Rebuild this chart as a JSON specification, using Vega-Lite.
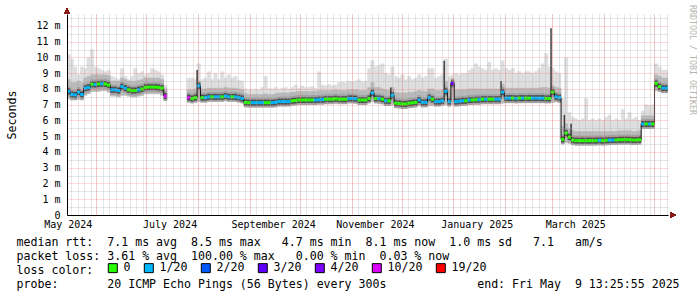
{
"$schema":"https://vega.github.io/schema/vega-lite/v6.json",
"width":601,"height":201,
"autosize":{"type":"none"},
"padding":{"left":67,"top":14,"right":29,"bottom":82},
"background":"#ffffff",
"config":{"view":{"stroke":null}},
"title":{"text":"RRDTOOL / TOBI OETIKER","orient":"right","anchor":"start","frame":"group","angle":90,"font":"DejaVu Sans Mono","fontSize":8.3,"fontWeight":"normal","color":"#b3b3b3","offset":10,"dx":-9},
"data":{"format":{"parse":{"t":"date"}},"values":[
{"t":"2024-05-14T12:00","m":7.85,"l":"1/20","lo":7.4,"mid":8.6,"hi":10.2},
{"t":"2024-05-16T12:00","m":7.65,"l":"1/20","lo":7.3,"mid":8.4,"hi":9.9},
{"t":"2024-05-18T12:00","m":7.62,"l":"1/20","lo":7.3,"mid":8.4,"hi":9.4},
{"t":"2024-05-20T12:00","m":7.8,"l":"1/20","lo":7.35,"mid":8.5,"hi":8.9},
{"t":"2024-05-22T12:00","m":7.65,"l":"1/20","lo":7.3,"mid":8.4,"hi":9.4},
{"t":"2024-05-24T12:00","m":8.05,"l":"1/20","lo":7.6,"mid":8.7,"hi":9.3},
{"t":"2024-05-26T12:00","m":8.1,"l":"1/20","lo":7.7,"mid":8.8,"hi":10.0},
{"t":"2024-05-28T12:00","m":8.3,"l":"0","lo":7.85,"mid":8.9,"hi":10.5},
{"t":"2024-05-30T12:00","m":8.28,"l":"1/20","lo":7.85,"mid":8.9,"hi":9.4},
{"t":"2024-06-01T12:00","m":8.32,"l":"0","lo":7.85,"mid":8.9,"hi":9.3},
{"t":"2024-06-03T12:00","m":8.33,"l":"1/20","lo":7.9,"mid":8.9,"hi":9.2},
{"t":"2024-06-05T12:00","m":8.32,"l":"0","lo":7.9,"mid":8.9,"hi":9.1},
{"t":"2024-06-07T12:00","m":8.25,"l":"0","lo":7.8,"mid":8.85,"hi":9.2},
{"t":"2024-06-09T12:00","m":7.95,"l":"1/20","lo":7.55,"mid":8.5,"hi":8.8},
{"t":"2024-06-11T12:00","m":7.95,"l":"1/20","lo":7.55,"mid":8.5,"hi":8.7},
{"t":"2024-06-13T12:00","m":7.9,"l":"1/20","lo":7.5,"mid":8.5,"hi":8.6},
{"t":"2024-06-15T12:00","m":8.15,"l":"1/20","lo":7.6,"mid":8.7,"hi":9.3},
{"t":"2024-06-17T12:00","m":8.05,"l":"1/20","lo":7.6,"mid":8.6,"hi":8.8},
{"t":"2024-06-19T12:00","m":7.95,"l":"0","lo":7.55,"mid":8.5,"hi":8.6},
{"t":"2024-06-21T12:00","m":7.9,"l":"0","lo":7.5,"mid":8.5,"hi":8.8},
{"t":"2024-06-23T12:00","m":7.9,"l":"0","lo":7.5,"mid":8.5,"hi":9.3},
{"t":"2024-06-25T12:00","m":7.95,"l":"1/20","lo":7.55,"mid":8.55,"hi":9.0},
{"t":"2024-06-27T12:00","m":8.0,"l":"0","lo":7.6,"mid":8.6,"hi":9.1},
{"t":"2024-06-29T12:00","m":8.1,"l":"0","lo":7.7,"mid":8.7,"hi":8.9},
{"t":"2024-07-01T12:00","m":8.12,"l":"0","lo":7.7,"mid":8.7,"hi":9.0},
{"t":"2024-07-03T12:00","m":8.12,"l":"0","lo":7.7,"mid":8.7,"hi":9.3},
{"t":"2024-07-05T12:00","m":8.12,"l":"0","lo":7.7,"mid":8.7,"hi":9.2},
{"t":"2024-07-07T12:00","m":8.1,"l":"0","lo":7.7,"mid":8.7,"hi":9.1},
{"t":"2024-07-09T12:00","m":8.05,"l":"0","lo":7.6,"mid":8.6,"hi":8.9},
{"t":"2024-07-11T12:00","m":7.55,"l":"10/20","lo":7.3,"mid":8.0,"hi":8.2},
{"t":"2024-07-13T12:00"},
{"t":"2024-07-25T12:00","m":7.45,"l":"10/20","lo":7.2,"mid":7.95,"hi":8.7},
{"t":"2024-07-27T12:00","m":7.4,"l":"0","lo":7.15,"mid":7.95,"hi":8.7},
{"t":"2024-07-29T12:00","m":7.45,"l":"0","lo":7.2,"mid":8.0,"hi":8.6},
{"t":"2024-07-31T12:00","m":8.2,"l":"1/20","lo":7.2,"mid":8.4,"hi":9.6,"dk":9.2},
{"t":"2024-08-02T12:00","m":7.45,"l":"0","lo":7.2,"mid":8.0,"hi":8.6},
{"t":"2024-08-04T12:00","m":7.45,"l":"1/20","lo":7.2,"mid":8.0,"hi":8.7},
{"t":"2024-08-06T12:00","m":7.5,"l":"1/20","lo":7.25,"mid":8.05,"hi":9.1},
{"t":"2024-08-08T12:00","m":7.5,"l":"0","lo":7.25,"mid":8.05,"hi":8.6},
{"t":"2024-08-10T12:00","m":7.5,"l":"1/20","lo":7.25,"mid":8.05,"hi":9.0},
{"t":"2024-08-12T12:00","m":7.5,"l":"1/20","lo":7.25,"mid":8.05,"hi":8.6},
{"t":"2024-08-14T12:00","m":7.5,"l":"0","lo":7.25,"mid":8.05,"hi":9.1},
{"t":"2024-08-16T12:00","m":7.55,"l":"1/20","lo":7.3,"mid":8.1,"hi":8.7},
{"t":"2024-08-18T12:00","m":7.5,"l":"1/20","lo":7.25,"mid":8.05,"hi":8.9},
{"t":"2024-08-20T12:00","m":7.5,"l":"0","lo":7.25,"mid":8.05,"hi":8.7},
{"t":"2024-08-22T12:00","m":7.5,"l":"1/20","lo":7.25,"mid":8.05,"hi":8.8},
{"t":"2024-08-24T12:00","m":7.45,"l":"1/20","lo":7.2,"mid":8.0,"hi":8.55},
{"t":"2024-08-26T12:00","m":7.4,"l":"1/20","lo":7.15,"mid":7.95,"hi":8.5},
{"t":"2024-08-28T12:00","m":7.15,"l":"0","lo":6.95,"mid":7.7,"hi":8.0},
{"t":"2024-08-30T12:00","m":7.13,"l":"0","lo":6.93,"mid":7.65,"hi":7.95},
{"t":"2024-09-01T12:00","m":7.13,"l":"1/20","lo":6.93,"mid":7.65,"hi":7.95},
{"t":"2024-09-03T12:00","m":7.13,"l":"1/20","lo":6.93,"mid":7.65,"hi":8.0},
{"t":"2024-09-05T12:00","m":7.13,"l":"1/20","lo":6.93,"mid":7.65,"hi":7.95},
{"t":"2024-09-07T12:00","m":7.13,"l":"1/20","lo":6.93,"mid":7.65,"hi":8.1},
{"t":"2024-09-09T12:00","m":7.13,"l":"0","lo":6.93,"mid":7.7,"hi":8.8},
{"t":"2024-09-11T12:00","m":7.13,"l":"0","lo":6.93,"mid":7.65,"hi":8.05},
{"t":"2024-09-13T12:00","m":7.13,"l":"1/20","lo":6.93,"mid":7.65,"hi":8.0},
{"t":"2024-09-15T12:00","m":7.15,"l":"1/20","lo":6.95,"mid":7.7,"hi":8.1},
{"t":"2024-09-17T12:00","m":7.2,"l":"1/20","lo":7.0,"mid":7.75,"hi":8.0},
{"t":"2024-09-19T12:00","m":7.2,"l":"1/20","lo":7.0,"mid":7.75,"hi":8.05},
{"t":"2024-09-21T12:00","m":7.2,"l":"1/20","lo":7.0,"mid":7.75,"hi":8.1},
{"t":"2024-09-23T12:00","m":7.2,"l":"1/20","lo":7.0,"mid":7.75,"hi":8.0},
{"t":"2024-09-25T12:00","m":7.25,"l":"0","lo":7.05,"mid":7.8,"hi":8.1},
{"t":"2024-09-27T12:00","m":7.27,"l":"0","lo":7.05,"mid":7.8,"hi":8.25},
{"t":"2024-09-29T12:00","m":7.3,"l":"0","lo":7.1,"mid":7.85,"hi":8.05},
{"t":"2024-10-01T12:00","m":7.3,"l":"0","lo":7.1,"mid":7.85,"hi":8.2},
{"t":"2024-10-03T12:00","m":7.3,"l":"0","lo":7.1,"mid":7.85,"hi":8.1},
{"t":"2024-10-05T12:00","m":7.3,"l":"0","lo":7.1,"mid":7.85,"hi":8.1},
{"t":"2024-10-07T12:00","m":7.3,"l":"0","lo":7.1,"mid":7.85,"hi":8.15},
{"t":"2024-10-09T12:00","m":7.3,"l":"1/20","lo":7.1,"mid":7.85,"hi":8.05},
{"t":"2024-10-11T12:00","m":7.32,"l":"1/20","lo":7.1,"mid":7.9,"hi":9.1},
{"t":"2024-10-13T12:00","m":7.32,"l":"1/20","lo":7.1,"mid":7.9,"hi":8.25},
{"t":"2024-10-15T12:00","m":7.35,"l":"0","lo":7.15,"mid":7.9,"hi":8.2},
{"t":"2024-10-17T12:00","m":7.35,"l":"0","lo":7.15,"mid":7.9,"hi":8.3},
{"t":"2024-10-19T12:00","m":7.35,"l":"0","lo":7.15,"mid":7.9,"hi":8.2},
{"t":"2024-10-21T12:00","m":7.38,"l":"0","lo":7.15,"mid":7.95,"hi":8.25},
{"t":"2024-10-23T12:00","m":7.35,"l":"0","lo":7.15,"mid":7.9,"hi":8.4},
{"t":"2024-10-25T12:00","m":7.35,"l":"0","lo":7.15,"mid":7.9,"hi":8.45},
{"t":"2024-10-27T12:00","m":7.35,"l":"0","lo":7.15,"mid":7.9,"hi":8.4},
{"t":"2024-10-29T12:00","m":7.4,"l":"1/20","lo":7.2,"mid":7.95,"hi":8.5},
{"t":"2024-10-31T12:00","m":7.4,"l":"1/20","lo":7.2,"mid":7.95,"hi":8.45},
{"t":"2024-11-02T12:00","m":7.38,"l":"1/20","lo":7.15,"mid":7.95,"hi":8.5},
{"t":"2024-11-04T12:00","m":7.3,"l":"0","lo":7.1,"mid":7.9,"hi":8.6},
{"t":"2024-11-06T12:00","m":7.3,"l":"0","lo":7.1,"mid":7.9,"hi":8.45},
{"t":"2024-11-08T12:00","m":7.3,"l":"0","lo":7.1,"mid":7.9,"hi":8.5},
{"t":"2024-11-10T12:00","m":7.4,"l":"0","lo":7.15,"mid":8.1,"hi":9.3},
{"t":"2024-11-12T12:00","m":7.75,"l":"1/20","lo":7.2,"mid":8.4,"hi":9.8},
{"t":"2024-11-14T12:00","m":7.4,"l":"0","lo":7.15,"mid":8.1,"hi":9.4},
{"t":"2024-11-16T12:00","m":7.4,"l":"1/20","lo":7.1,"mid":8.1,"hi":9.5},
{"t":"2024-11-18T12:00","m":7.35,"l":"0","lo":7.05,"mid":8.0,"hi":9.6},
{"t":"2024-11-20T12:00","m":7.25,"l":"1/20","lo":6.95,"mid":7.95,"hi":9.0},
{"t":"2024-11-22T12:00","m":7.25,"l":"0","lo":6.95,"mid":7.9,"hi":8.9},
{"t":"2024-11-24T12:00","m":7.6,"l":"1/20","lo":7.0,"mid":8.1,"hi":9.4,"dk":8.1},
{"t":"2024-11-26T12:00","m":7.1,"l":"0","lo":6.85,"mid":7.8,"hi":8.8},
{"t":"2024-11-28T12:00","m":7.08,"l":"0","lo":6.85,"mid":7.75,"hi":8.7},
{"t":"2024-11-30T12:00","m":7.05,"l":"0","lo":6.8,"mid":7.75,"hi":8.9},
{"t":"2024-12-02T12:00","m":7.05,"l":"0","lo":6.8,"mid":7.75,"hi":8.6},
{"t":"2024-12-04T12:00","m":7.1,"l":"0","lo":6.85,"mid":7.8,"hi":8.8},
{"t":"2024-12-06T12:00","m":7.12,"l":"0","lo":6.85,"mid":7.8,"hi":8.6},
{"t":"2024-12-08T12:00","m":7.15,"l":"0","lo":6.9,"mid":7.85,"hi":8.7},
{"t":"2024-12-10T12:00","m":7.3,"l":"1/20","lo":6.95,"mid":7.9,"hi":8.9},
{"t":"2024-12-12T12:00","m":7.15,"l":"1/20","lo":6.9,"mid":7.85,"hi":8.7},
{"t":"2024-12-14T12:00","m":7.15,"l":"1/20","lo":6.9,"mid":7.85,"hi":8.8},
{"t":"2024-12-16T12:00","m":7.45,"l":"1/20","lo":6.95,"mid":8.0,"hi":9.3},
{"t":"2024-12-18T12:00","m":7.35,"l":"0","lo":6.95,"mid":8.0,"hi":9.3},
{"t":"2024-12-20T12:00","m":7.2,"l":"1/20","lo":6.95,"mid":7.9,"hi":8.7},
{"t":"2024-12-22T12:00","m":7.2,"l":"1/20","lo":6.95,"mid":7.9,"hi":8.8},
{"t":"2024-12-24T12:00","m":7.25,"l":"1/20","lo":7.0,"mid":7.95,"hi":8.9},
{"t":"2024-12-26T12:00","m":7.85,"l":"1/20","lo":7.0,"mid":8.5,"hi":9.9,"dk":9.8},
{"t":"2024-12-28T12:00","m":7.2,"l":"1/20","lo":6.95,"mid":7.95,"hi":8.8},
{"t":"2024-12-30T12:00","m":8.35,"l":"3/20","lo":7.0,"mid":8.5,"hi":8.9},
{"t":"2025-01-01T12:00","m":7.2,"l":"1/20","lo":6.95,"mid":7.95,"hi":9.0},
{"t":"2025-01-03T12:00","m":7.22,"l":"1/20","lo":6.95,"mid":7.95,"hi":8.9},
{"t":"2025-01-05T12:00","m":7.25,"l":"1/20","lo":7.0,"mid":7.95,"hi":9.0},
{"t":"2025-01-07T12:00","m":7.25,"l":"0","lo":7.0,"mid":7.95,"hi":9.0},
{"t":"2025-01-09T12:00","m":7.3,"l":"1/20","lo":7.05,"mid":8.0,"hi":9.2},
{"t":"2025-01-11T12:00","m":7.3,"l":"0","lo":7.05,"mid":8.0,"hi":9.3},
{"t":"2025-01-13T12:00","m":7.32,"l":"0","lo":7.05,"mid":8.0,"hi":9.6},
{"t":"2025-01-15T12:00","m":7.32,"l":"1/20","lo":7.05,"mid":8.0,"hi":9.4},
{"t":"2025-01-17T12:00","m":7.35,"l":"0","lo":7.1,"mid":8.0,"hi":9.3},
{"t":"2025-01-19T12:00","m":7.35,"l":"1/20","lo":7.1,"mid":8.0,"hi":9.2},
{"t":"2025-01-21T12:00","m":7.35,"l":"0","lo":7.1,"mid":8.0,"hi":9.7},
{"t":"2025-01-23T12:00","m":7.35,"l":"0","lo":7.1,"mid":8.0,"hi":9.2},
{"t":"2025-01-25T12:00","m":7.35,"l":"1/20","lo":7.1,"mid":8.0,"hi":9.3},
{"t":"2025-01-27T12:00","m":7.35,"l":"1/20","lo":7.1,"mid":8.0,"hi":9.2},
{"t":"2025-01-29T12:00","m":7.8,"l":"1/20","lo":7.1,"mid":8.3,"hi":9.8,"dk":8.5},
{"t":"2025-01-31T12:00","m":7.42,"l":"1/20","lo":7.15,"mid":8.05,"hi":9.3},
{"t":"2025-02-02T12:00","m":7.42,"l":"1/20","lo":7.15,"mid":8.05,"hi":9.2},
{"t":"2025-02-04T12:00","m":7.42,"l":"0","lo":7.15,"mid":8.05,"hi":9.3},
{"t":"2025-02-06T12:00","m":7.4,"l":"1/20","lo":7.15,"mid":8.05,"hi":9.0},
{"t":"2025-02-08T12:00","m":7.42,"l":"0","lo":7.15,"mid":8.05,"hi":9.1},
{"t":"2025-02-10T12:00","m":7.42,"l":"1/20","lo":7.15,"mid":8.05,"hi":9.0},
{"t":"2025-02-12T12:00","m":7.42,"l":"0","lo":7.15,"mid":8.05,"hi":9.1},
{"t":"2025-02-14T12:00","m":7.42,"l":"0","lo":7.15,"mid":8.05,"hi":9.1},
{"t":"2025-02-16T12:00","m":7.42,"l":"1/20","lo":7.15,"mid":8.05,"hi":9.0},
{"t":"2025-02-18T12:00","m":7.42,"l":"1/20","lo":7.15,"mid":8.05,"hi":9.1},
{"t":"2025-02-20T12:00","m":7.42,"l":"1/20","lo":7.15,"mid":8.05,"hi":9.3},
{"t":"2025-02-22T12:00","m":7.42,"l":"1/20","lo":7.15,"mid":8.1,"hi":9.6},
{"t":"2025-02-24T12:00","m":7.4,"l":"0","lo":7.15,"mid":8.1,"hi":10.25},
{"t":"2025-02-26T12:00","m":7.4,"l":"0","lo":7.15,"mid":8.05,"hi":9.4},
{"t":"2025-02-28T12:00","m":7.8,"l":"0","lo":7.15,"mid":8.2,"hi":9.3,"dk":11.85},
{"t":"2025-03-02T12:00","m":7.5,"l":"1/20","lo":7.2,"mid":8.1,"hi":9.1},
{"t":"2025-03-04T12:00","m":7.45,"l":"1/20","lo":7.15,"mid":8.05,"hi":9.0},
{"t":"2025-03-06T12:00","m":4.8,"l":"0","lo":4.55,"mid":5.6,"hi":7.4},
{"t":"2025-03-08T12:00","m":5.2,"l":"0","lo":4.6,"mid":5.8,"hi":10.0,"dk":6.35},
{"t":"2025-03-10T12:00","m":4.95,"l":"0","lo":4.55,"mid":5.5,"hi":6.5},
{"t":"2025-03-12T12:00","m":4.75,"l":"0","lo":4.5,"mid":5.35,"hi":6.2,"dk":5.8},
{"t":"2025-03-14T12:00","m":4.72,"l":"0","lo":4.5,"mid":5.3,"hi":6.1},
{"t":"2025-03-16T12:00","m":4.72,"l":"0","lo":4.5,"mid":5.3,"hi":6.0},
{"t":"2025-03-18T12:00","m":4.72,"l":"0","lo":4.5,"mid":5.3,"hi":6.1},
{"t":"2025-03-20T12:00","m":4.72,"l":"0","lo":4.5,"mid":5.3,"hi":7.4},
{"t":"2025-03-22T12:00","m":4.72,"l":"0","lo":4.5,"mid":5.3,"hi":6.0},
{"t":"2025-03-24T12:00","m":4.72,"l":"0","lo":4.5,"mid":5.3,"hi":6.1},
{"t":"2025-03-26T12:00","m":4.72,"l":"0","lo":4.5,"mid":5.3,"hi":6.0},
{"t":"2025-03-28T12:00","m":4.74,"l":"1/20","lo":4.5,"mid":5.3,"hi":6.1},
{"t":"2025-03-30T12:00","m":4.72,"l":"0","lo":4.5,"mid":5.3,"hi":6.0},
{"t":"2025-04-01T12:00","m":4.74,"l":"0","lo":4.5,"mid":5.3,"hi":6.2},
{"t":"2025-04-03T12:00","m":4.75,"l":"1/20","lo":4.52,"mid":5.3,"hi":6.35},
{"t":"2025-04-05T12:00","m":4.76,"l":"1/20","lo":4.52,"mid":5.3,"hi":6.0},
{"t":"2025-04-07T12:00","m":4.76,"l":"0","lo":4.52,"mid":5.3,"hi":6.1},
{"t":"2025-04-09T12:00","m":4.78,"l":"0","lo":4.55,"mid":5.35,"hi":6.0},
{"t":"2025-04-11T12:00","m":4.78,"l":"0","lo":4.55,"mid":5.35,"hi":6.7},
{"t":"2025-04-13T12:00","m":4.78,"l":"0","lo":4.55,"mid":5.35,"hi":6.1},
{"t":"2025-04-15T12:00","m":4.78,"l":"0","lo":4.55,"mid":5.35,"hi":6.5},
{"t":"2025-04-17T12:00","m":4.76,"l":"0","lo":4.52,"mid":5.3,"hi":6.1},
{"t":"2025-04-19T12:00","m":4.76,"l":"0","lo":4.52,"mid":5.3,"hi":6.2},
{"t":"2025-04-21T12:00","m":4.78,"l":"0","lo":4.55,"mid":5.35,"hi":6.0},
{"t":"2025-04-23T12:00","m":5.78,"l":"1/20","lo":5.55,"mid":6.3,"hi":6.6},
{"t":"2025-04-25T12:00","m":5.78,"l":"0","lo":5.55,"mid":6.3,"hi":7.0},
{"t":"2025-04-27T12:00","m":5.78,"l":"1/20","lo":5.55,"mid":6.3,"hi":6.95},
{"t":"2025-04-29T12:00","m":5.78,"l":"0","lo":5.55,"mid":6.3,"hi":7.0},
{"t":"2025-05-01T12:00","m":8.35,"l":"0","lo":7.9,"mid":8.9,"hi":9.6},
{"t":"2025-05-03T12:00","m":8.15,"l":"0","lo":7.85,"mid":8.8,"hi":9.4},
{"t":"2025-05-05T12:00","m":8.05,"l":"1/20","lo":7.8,"mid":8.7,"hi":9.2},
{"t":"2025-05-07T12:00","m":8.05,"l":"1/20","lo":7.8,"mid":8.7,"hi":9.2},
{"t":"2025-05-09T12:00","m":8.05,"l":"1/20","lo":7.8,"mid":8.7,"hi":9.2},
{"t":"2025-05-11T12:00"}
]},
"transform":[{"window":[{"op":"lead","field":"t","as":"t2"}],"sort":[{"field":"t","order":"ascending"}]}],
"resolve":{"axis":{"x":"independent","y":"independent"}},
"layer":[
{"mark":{"type":"rect","color":"#dedede","stroke":"#dedede","strokeWidth":0.5,"clip":true},
 "encoding":{
  "x":{"field":"t","type":"temporal","scale":{"domain":[{"year":2024,"month":5,"date":14,"hours":13,"minutes":25},{"year":2025,"month":5,"date":9,"hours":13,"minutes":25}]},
       "axis":{"orient":"bottom","grid":true,"gridColor":"#a8a8a8","gridDash":[1,1],"gridOpacity":0.55,"tickCount":{"interval":"day","step":4},"labels":false,"ticks":false,"domain":false,"title":null,"zindex":1}},
  "x2":{"field":"t2"},
  "y":{"field":"lo","type":"quantitative","scale":{"domain":[0,12.76],"nice":false,"zero":false},
       "axis":{"orient":"left","grid":true,"gridColor":"#a8a8a8","gridDash":[1,1],"gridOpacity":0.55,"values":[0.5,1.5,2.5,3.5,4.5,5.5,6.5,7.5,8.5,9.5,10.5,11.5,12.5],"labels":false,"ticks":false,"domain":false,"title":null,"zindex":1}},
  "y2":{"field":"hi"}}},
{"mark":{"type":"rect","color":"#b9b9b9","stroke":"#b9b9b9","strokeWidth":0.5,"clip":true},
 "encoding":{
  "x":{"field":"t","type":"temporal","scale":{"domain":[{"year":2024,"month":5,"date":14,"hours":13,"minutes":25},{"year":2025,"month":5,"date":9,"hours":13,"minutes":25}]},
       "axis":{"orient":"bottom","grid":true,"gridColor":"#ff5050","gridDash":[1,1],"gridOpacity":0.42,"tickCount":{"interval":"month","step":1},"labels":false,"ticks":false,"domain":false,"title":null,"zindex":1}},
  "x2":{"field":"t2"},
  "y":{"field":"lo","type":"quantitative","scale":{"domain":[0,12.76],"nice":false,"zero":false},
       "axis":{"orient":"left","values":[0,1,2,3,4,5,6,7,8,9,10,11,12],"grid":true,"gridColor":"#ff5050","gridDash":[1,1],"gridOpacity":0.42,"ticks":false,"tickSize":0,"labelPadding":7,"labelFont":"DejaVu Sans Mono","labelFontSize":10,"labelColor":"#000000","labelExpr":"datum.value == 0 ? '0\u00a0\u00a0' : datum.value + ' m'","domain":true,"domainColor":"#000000","domainWidth":1,"title":"Seconds","titleFont":"DejaVu Sans Mono","titleFontSize":11.6,"titleFontWeight":"normal","titleColor":"#000000","titleAngle":-90,"titleX":-52,"titleY":100.5,"titleAlign":"center","titleBaseline":"alphabetic","zindex":1}},
  "y2":{"field":"mid"}}},
{"mark":{"type":"rule","color":"#a0a0a0","strokeWidth":10,"clip":true},
 "encoding":{
  "x":{"field":"t","type":"temporal","scale":{"domain":[{"year":2024,"month":5,"date":14,"hours":13,"minutes":25},{"year":2025,"month":5,"date":9,"hours":13,"minutes":25}]},
       "axis":{"orient":"bottom","values":[{"year":2024,"month":5,"date":15},{"year":2024,"month":7,"date":15},{"year":2024,"month":9,"date":15},{"year":2024,"month":11,"date":15},{"year":2025,"month":1,"date":15},{"year":2025,"month":3,"date":15}],
               "format":"%B %Y","grid":false,"ticks":false,"tickSize":0,"labelPadding":12,"labelBaseline":"alphabetic","labelFont":"DejaVu Sans Mono","labelFontSize":10,"labelColor":"#000000","labelOverlap":false,"labelBound":false,"labelFlush":false,
               "domain":true,"domainColor":"#000000","domainWidth":1,
               "title":["median rtt:\u00a0\u00a07.1 ms avg\u00a0\u00a08.5 ms max\u00a0\u00a0\u00a04.7 ms min\u00a0\u00a08.1 ms now\u00a0\u00a01.0 ms sd\u00a0\u00a0\u00a07.1\u00a0\u00a0\u00a0am/s",
                        "packet loss: 3.61 % avg\u00a0\u00a0100.00 % max\u00a0\u00a0\u00a00.00 % min\u00a0\u00a00.03 % now",
                        "loss color:",
                        "probe:\u00a0\u00a0\u00a0\u00a0\u00a0\u00a0\u00a020 ICMP Echo Pings (56 Bytes) every 300s\u00a0\u00a0\u00a0\u00a0\u00a0\u00a0\u00a0\u00a0\u00a0\u00a0\u00a0\u00a0\u00a0end: Fri May\u00a0\u00a09 13:25:55 2025"],
               "titleFont":"DejaVu Sans Mono","titleFontSize":11.6,"titleFontWeight":"normal","titleColor":"#000000","titleX":-51,"titleY":30,"titleAlign":"left","titleBaseline":"alphabetic","titleLineHeight":14,"titleLimit":1000,"zindex":1}},
  "x2":{"field":"t2"},
  "y":{"field":"m","type":"quantitative","scale":{"domain":[0,12.76],"nice":false,"zero":false},"axis":null}}},
{"mark":{"type":"rule","color":"#4d4d4d","strokeWidth":6,"clip":true},
 "encoding":{
  "x":{"field":"t","type":"temporal","scale":{"domain":[{"year":2024,"month":5,"date":14,"hours":13,"minutes":25},{"year":2025,"month":5,"date":9,"hours":13,"minutes":25}]},"axis":null},
  "x2":{"field":"t2"},
  "y":{"field":"m","type":"quantitative","scale":{"domain":[0,12.76],"nice":false,"zero":false},"axis":null}}},
{"transform":[{"filter":"isValid(datum.dk)"}],
 "mark":{"type":"rule","color":"#3a3a3a","strokeWidth":1.5,"clip":true},
 "encoding":{
  "x":{"field":"t","type":"temporal","scale":{"domain":[{"year":2024,"month":5,"date":14,"hours":13,"minutes":25},{"year":2025,"month":5,"date":9,"hours":13,"minutes":25}]},"axis":null},
  "y":{"field":"m","type":"quantitative","scale":{"domain":[0,12.76],"nice":false,"zero":false},"axis":null},
  "y2":{"field":"dk"}}},
{"mark":{"type":"line","interpolate":"step-after","color":"#111111","strokeWidth":1,"clip":true},
 "encoding":{
  "x":{"field":"t","type":"temporal","scale":{"domain":[{"year":2024,"month":5,"date":14,"hours":13,"minutes":25},{"year":2025,"month":5,"date":9,"hours":13,"minutes":25}]},"axis":null},
  "y":{"field":"m","type":"quantitative","scale":{"domain":[0,12.76],"nice":false,"zero":false},"axis":null}}},
{"mark":{"type":"rule","strokeWidth":3,"clip":true},
 "encoding":{
  "x":{"field":"t","type":"temporal","scale":{"domain":[{"year":2024,"month":5,"date":14,"hours":13,"minutes":25},{"year":2025,"month":5,"date":9,"hours":13,"minutes":25}]},"axis":null},
  "x2":{"field":"t2"},
  "y":{"field":"m","type":"quantitative","scale":{"domain":[0,12.76],"nice":false,"zero":false},"axis":null},
  "stroke":{"field":"l","type":"nominal",
     "scale":{"domain":["0","1/20","2/20","3/20","4/20","10/20","19/20","other"],"range":["#26ff00","#00b8ff","#0059ff","#5e00ff","#7e00ff","#dd00ff","#ff0000","#000000"]},
     "legend":null}}},
{"mark":{"type":"square","filled":true,"size":0,"clip":true},
 "encoding":{
  "x":{"field":"t","type":"temporal","scale":{"domain":[{"year":2024,"month":5,"date":14,"hours":13,"minutes":25},{"year":2025,"month":5,"date":9,"hours":13,"minutes":25}]},"axis":null},
  "y":{"field":"m","type":"quantitative","scale":{"domain":[0,12.76],"nice":false,"zero":false},"axis":null},
  "fill":{"field":"l","type":"nominal",
     "scale":{"domain":["0","1/20","2/20","3/20","4/20","10/20","19/20"],"range":["#26ff00","#00b8ff","#0059ff","#5e00ff","#7e00ff","#dd00ff","#ff0000"]},
     "legend":{"orient":"none","legendX":40,"legendY":248,"direction":"horizontal","title":null,"symbolType":"square","symbolSize":81,"symbolStrokeColor":"#000000","symbolStrokeWidth":1,"symbolOpacity":1,"labelFont":"DejaVu Sans Mono","labelFontSize":11.6,"labelColor":"#000000","labelOffset":5,"columnPadding":11,"padding":0,"rowPadding":0}}}},
{"mark":{"type":"point","shape":"triangle-right","filled":true,"color":"#8b1a1a","size":30,"opacity":1,"xOffset":5},
 "encoding":{
  "x":{"datum":{"year":2025,"month":5,"date":9,"hours":13,"minutes":25},"type":"temporal","scale":{"domain":[{"year":2024,"month":5,"date":14,"hours":13,"minutes":25},{"year":2025,"month":5,"date":9,"hours":13,"minutes":25}]},"axis":null},
  "y":{"datum":0,"type":"quantitative","scale":{"domain":[0,12.76],"nice":false,"zero":false},"axis":null}}},
{"mark":{"type":"point","shape":"triangle-up","filled":true,"color":"#8b1a1a","size":30,"opacity":1,"yOffset":-3},
 "encoding":{
  "x":{"datum":{"year":2024,"month":5,"date":14,"hours":13,"minutes":25},"type":"temporal","scale":{"domain":[{"year":2024,"month":5,"date":14,"hours":13,"minutes":25},{"year":2025,"month":5,"date":9,"hours":13,"minutes":25}]},"axis":null},
  "y":{"datum":12.76,"type":"quantitative","scale":{"domain":[0,12.76],"nice":false,"zero":false},"axis":null}}}
]
}
